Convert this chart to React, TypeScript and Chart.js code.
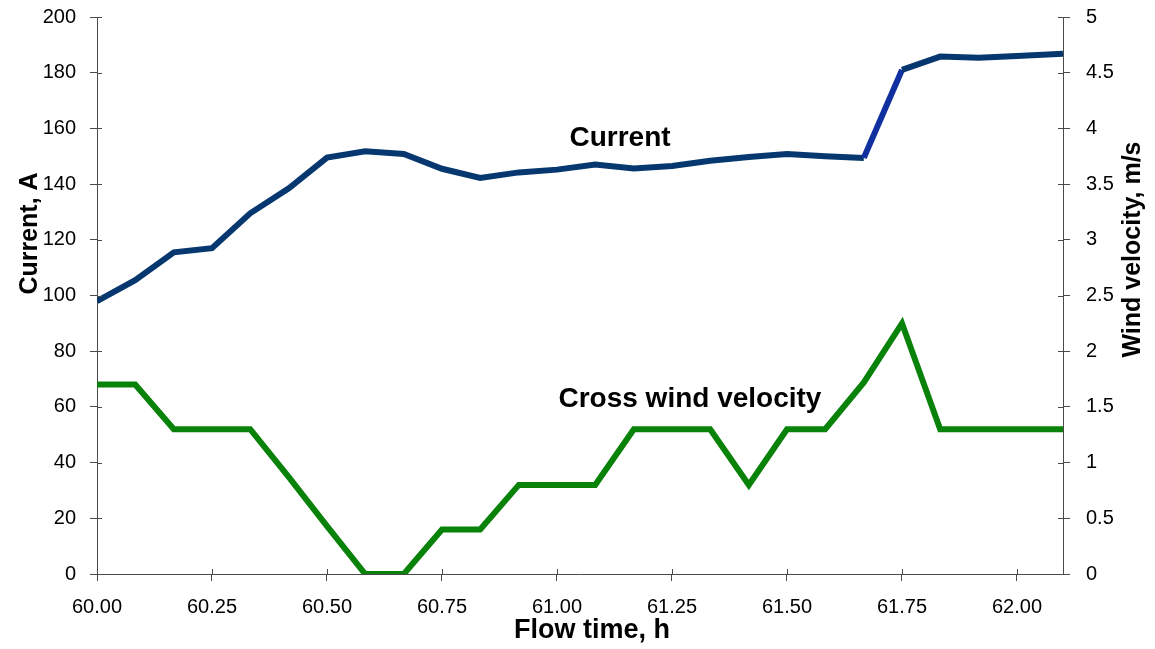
import React, { useEffect, useRef } from "react";
import { Chart, registerables } from "chart.js";

Chart.register(...registerables);

// Flow time (h)
const times = [
  60.0, 60.083, 60.167, 60.25, 60.333, 60.417, 60.5, 60.583, 60.667, 60.75,
  60.833, 60.917, 61.0, 61.083, 61.167, 61.25, 61.333, 61.417, 61.5, 61.583,
  61.667, 61.75, 61.833, 61.917, 62.0, 62.1,
];
// Current, A (left axis)
const current = [
  98, 105.5, 115.5, 117, 129.5, 138.5, 149.5, 151.8, 150.8, 145.5,
  142.2, 144.2, 145.2, 147, 145.6, 146.5, 148.4, 149.7, 150.8, 150,
  149.4, 181, 185.8, 185.4, 186, 186.8,
];
// Cross wind velocity, m/s (right axis)
const wind = [
  1.7, 1.7, 1.3, 1.3, 1.3, 0.87, 0.43, 0, 0, 0.4,
  0.4, 0.8, 0.8, 0.8, 1.3, 1.3, 1.3, 0.8, 1.3, 1.3,
  1.72, 2.25, 1.3, 1.3, 1.3, 1.3,
];
const xTicks = [60, 60.25, 60.5, 60.75, 61, 61.25, 61.5, 61.75, 62];
const currentLabel = { text: "Current", x: 61.137, y: 156.5 };
const windLabel = { text: "Cross wind velocity", x: 61.289, y: 1.57 };
const xTitle = "Flow time, h";
const yTitle = "Current, A";
const y1Title = "Wind velocity, m/s";

const AXIS_COLOR = "#4a4a4a";
const FONT = "'Liberation Sans', Arial, sans-serif";

const decorPlugin = {
  id: "decor",
  afterDraw(chart: any) {
    const { ctx, chartArea, scales } = chart;
    const xs = scales.x, ys = scales.y, y1s = scales.y1;
    ctx.save();
    // inner halves of the crossing tick marks
    ctx.strokeStyle = AXIS_COLOR;
    ctx.lineWidth = 1;
    ctx.beginPath();
    xs.ticks.forEach((t: any) => {
      const px = Math.round(xs.getPixelForValue(t.value)) + 0.5;
      ctx.moveTo(px, chartArea.bottom);
      ctx.lineTo(px, chartArea.bottom - 5);
    });
    ys.ticks.forEach((t: any) => {
      const py = Math.round(ys.getPixelForValue(t.value)) + 0.5;
      ctx.moveTo(chartArea.left, py);
      ctx.lineTo(chartArea.left + 5, py);
    });
    y1s.ticks.forEach((t: any) => {
      const py = Math.round(y1s.getPixelForValue(t.value)) + 0.5;
      ctx.moveTo(chartArea.right, py);
      ctx.lineTo(chartArea.right - 5, py);
    });
    ctx.stroke();

    // series annotations
    ctx.fillStyle = "#000";
    ctx.font = `bold 28px ${FONT}`;
    ctx.textAlign = "center";
    ctx.textBaseline = "middle";
    ctx.fillText(currentLabel.text, xs.getPixelForValue(currentLabel.x), ys.getPixelForValue(currentLabel.y));
    ctx.fillText(windLabel.text, xs.getPixelForValue(windLabel.x), y1s.getPixelForValue(windLabel.y));

    // axis titles
    const midY = (chartArea.top + chartArea.bottom) / 2;
    ctx.font = `bold 25px ${FONT}`;
    ctx.save();
    ctx.translate(chartArea.left - 67, midY - 62);
    ctx.rotate(-Math.PI / 2);
    ctx.fillText(yTitle, 0, 0);
    ctx.restore();
    ctx.save();
    ctx.translate(chartArea.right + 70, midY - 46);
    ctx.rotate(-Math.PI / 2);
    ctx.fillText(y1Title, 0, 0);
    ctx.restore();
    ctx.font = `bold 27px ${FONT}`;
    ctx.fillText(xTitle, (chartArea.left + chartArea.right) / 2 + 12, chartArea.bottom + 57);
    ctx.restore();
  },
};

const noPad = (s: any) => {
  s.paddingTop = 0;
  s.paddingBottom = 0;
};

export default function App() {
  const ref = useRef<HTMLCanvasElement | null>(null);
  useEffect(() => {
    if (!ref.current) return;
    const gridOpts = {
      display: true,
      drawOnChartArea: false,
      drawTicks: true,
      tickLength: 7,
      color: AXIS_COLOR,
    };
    const chart = new Chart(ref.current, {
      type: "line",
      data: {
        datasets: [
          {
            label: "Current",
            data: times.map((t, i) => ({ x: t, y: current[i] })),
            yAxisID: "y",
            borderColor: "#06386f",
            borderWidth: 6,
            pointRadius: 0,
            tension: 0,
            segment: {
              borderColor: (c: any) => (c.p0DataIndex === 20 ? "#1030a0" : undefined),
            },
          },
          {
            label: "Cross wind velocity",
            data: times.map((t, i) => ({ x: t, y: wind[i] })),
            yAxisID: "y1",
            borderColor: "#088208",
            borderWidth: 6,
            pointRadius: 0,
            tension: 0,
          },
        ],
      },
      options: {
        animation: false,
        responsive: true,
        maintainAspectRatio: false,
        layout: { padding: { top: 17, left: 0, right: 0, bottom: 0 } },
        plugins: { legend: { display: false }, tooltip: { enabled: false } },
        scales: {
          x: {
            type: "linear",
            min: 60,
            max: 62.1,
            afterBuildTicks: (s: any) => {
              s.ticks = xTicks.map((v) => ({ value: v }));
            },
            afterFit: (s: any) => {
              s.height = 75;
            },
            grid: gridOpts,
            border: { display: true, color: AXIS_COLOR, width: 1 },
            ticks: {
              padding: 14,
              color: "#000",
              font: { family: FONT, size: 20 },
              maxRotation: 0,
              autoSkip: false,
              callback: (v: any) => Number(v).toFixed(2),
            },
          },
          y: {
            type: "linear",
            position: "left",
            min: 0,
            max: 200,
            afterFit: (s: any) => {
              s.width = 97;
              noPad(s);
            },
            grid: gridOpts,
            border: { display: true, color: AXIS_COLOR, width: 1 },
            ticks: {
              stepSize: 20,
              padding: 14,
              color: "#000",
              font: { family: FONT, size: 20 },
            },
          },
          y1: {
            type: "linear",
            position: "right",
            min: 0,
            max: 5,
            afterFit: (s: any) => {
              s.width = 92;
              noPad(s);
            },
            grid: gridOpts,
            border: { display: true, color: AXIS_COLOR, width: 1 },
            ticks: {
              stepSize: 0.5,
              padding: 16,
              color: "#000",
              font: { family: FONT, size: 20 },
              callback: (v: any) => String(v),
            },
          },
        },
      },
      plugins: [decorPlugin],
    });
    return () => chart.destroy();
  }, []);
  return (
    <div style={{ position: "fixed", left: 0, top: 0, width: 1155, height: 649, background: "#fff" }}>
      <canvas ref={ref} />
    </div>
  );
}
